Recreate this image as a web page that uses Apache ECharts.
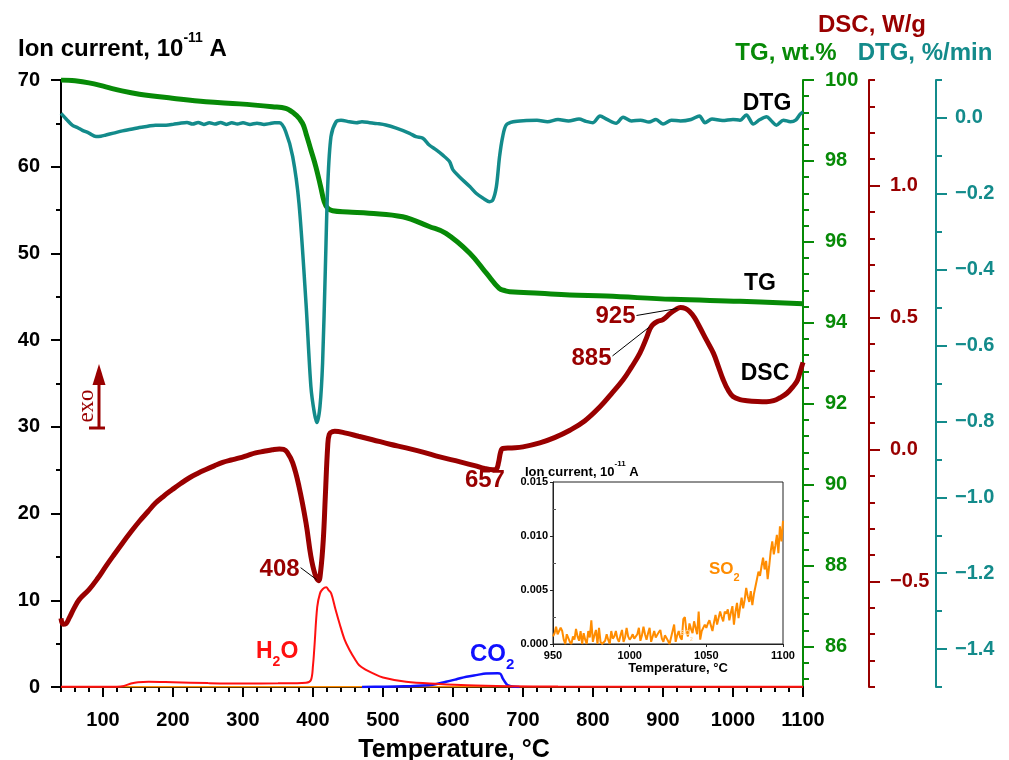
<!DOCTYPE html>
<html>
<head>
<meta charset="utf-8">
<title>TG / DTG / DSC / MS</title>
<script src="https://cdn.jsdelivr.net/npm/echarts@6.0.0/dist/echarts.min.js"></script>
<style>
  html, body { margin: 0; padding: 0; background: #ffffff; }
  #chart { width: 1009px; height: 760px; }
</style>
</head>
<body>
<div id="chart"></div>
<script>
// ---------- data ----------
// temperature tick labels (°C)
const tempTicks = [100, 200, 300, 400, 500, 600, 700, 800, 900, 1000, 1100];
const tgTicks = [86, 88, 90, 92, 94, 96, 98, 100];
const dscTicks = [-0.5, 0.0, 0.5, 1.0];
const dtgTicks = [-1.4, -1.2, -1.0, -0.8, -0.6, -0.4, -0.2, 0.0];

// TG, wt.%  [T, mass]
const tgData = [
  [40, 100.0], [60, 99.98], [80, 99.93], [104, 99.83], [127, 99.73], [152, 99.65],
  [199, 99.55], [247, 99.46], [295, 99.41], [342, 99.34], [361, 99.30], [376, 99.13],
  [385, 98.93], [390, 98.68], [397, 98.27], [404, 97.86], [411, 97.36], [416, 96.99],
  [421, 96.83], [428, 96.77], [450, 96.74], [480, 96.71], [528, 96.62], [566, 96.38],
  [590, 96.21], [624, 95.72], [648, 95.22], [666, 94.85], [675, 94.79], [681, 94.77],
  [724, 94.73], [767, 94.69], [819, 94.66], [914, 94.58], [1010, 94.53], [1100, 94.47]
];

// DTG, %/min  [T, rate]
const dtgData = [
  [40, 0.012], [48, -0.004], [56, -0.019], [64, -0.026], [70, -0.032], [80, -0.040],
  [90, -0.049], [97, -0.048], [104, -0.045], [115, -0.040], [128, -0.034], [140, -0.030],
  [152, -0.025], [164, -0.022], [175, -0.019], [190, -0.019], [200, -0.017], [210, -0.014],
  [220, -0.012], [228, -0.016], [236, -0.012], [244, -0.017], [252, -0.013], [260, -0.016],
  [268, -0.012], [276, -0.017], [284, -0.013], [292, -0.016], [300, -0.013], [310, -0.017],
  [320, -0.014], [330, -0.017], [338, -0.015], [345, -0.013], [352, -0.013], [361, -0.036],
  [371, -0.102], [380, -0.225], [390, -0.488], [397, -0.708], [402, -0.778], [405.7, -0.803],
  [410, -0.760], [413.7, -0.646], [417.6, -0.400], [421, -0.181], [425.7, -0.049],
  [433, -0.010], [440, -0.006], [452, -0.010], [462, -0.0125], [470, -0.010], [481, -0.0125],
  [492, -0.015], [504, -0.0186], [519, -0.027], [538, -0.0405], [547, -0.0494], [557, -0.0536],
  [566, -0.0712], [576, -0.0844], [585, -0.0975], [595, -0.115], [600, -0.137], [609, -0.155],
  [624, -0.181], [633, -0.1985], [643, -0.2116], [652, -0.2206], [657, -0.216], [662, -0.181],
  [666.5, -0.102], [671, -0.049], [676, -0.0186], [686, -0.0099], [705, -0.007], [720, -0.006],
  [735, -0.010], [750, -0.004], [765, -0.008], [780, -0.003], [790, -0.009], [800, -0.0125],
  [810, 0.005], [820, -0.004], [833, -0.014], [843, 0.002], [855, -0.008], [868, -0.006],
  [880, -0.011], [890, -0.004], [900, -0.016], [912, -0.006], [925, -0.008], [940, -0.004],
  [952, 0.005], [960, -0.0125], [970, -0.003], [985, -0.007], [1000, -0.004], [1010, -0.006],
  [1019, 0.008], [1029, -0.016], [1038, -0.005], [1048, 0.003], [1055, -0.008], [1062, -0.019],
  [1072, -0.006], [1082, -0.010], [1090, -0.005], [1096, 0.010], [1100, 0.016]
];

// DSC, W/g  [T, heat flow]
const dscData = [
  [40, -0.640], [43, -0.662], [47, -0.660], [52, -0.637], [58, -0.605], [66, -0.569],
  [80, -0.531], [92, -0.490], [104, -0.443], [116, -0.398], [128, -0.354], [140, -0.312],
  [152, -0.272], [164, -0.236], [175, -0.203], [187, -0.176], [199, -0.152], [211, -0.129],
  [223, -0.108], [235, -0.091], [247, -0.076], [259, -0.062], [271, -0.049], [283, -0.040],
  [295, -0.032], [307, -0.022], [318, -0.013], [330, -0.007], [342, -0.001], [352, 0.002],
  [358, 0.000], [363, -0.010], [371, -0.051], [380, -0.140], [390, -0.278], [397, -0.405],
  [403, -0.474], [408, -0.497], [411, -0.460], [414.7, -0.342], [417.6, -0.178], [421, 0.012],
  [423.3, 0.058], [428, 0.068], [431, 0.069], [447, 0.062], [465, 0.050], [485, 0.037],
  [510, 0.020], [533, 0.006], [557, -0.010], [581, -0.028], [609, -0.046], [631, -0.061],
  [645, -0.072], [657, -0.077], [662, -0.074], [665, -0.050], [668, -0.010], [671, 0.004],
  [684, 0.006], [700, 0.010], [724, 0.025], [745, 0.045], [767, 0.073], [788, 0.108],
  [810, 0.162], [826, 0.210], [843, 0.264], [855, 0.312], [867, 0.365], [876, 0.420],
  [881, 0.455], [885, 0.472], [892, 0.485], [900, 0.492], [910, 0.515], [918, 0.530],
  [925, 0.538], [932, 0.534], [938, 0.523], [945, 0.500], [952, 0.466], [962, 0.415],
  [972, 0.365], [979, 0.315], [986, 0.264], [993, 0.225], [1000, 0.201], [1010, 0.189],
  [1020, 0.185], [1035, 0.182], [1048, 0.181], [1058, 0.185], [1067, 0.196], [1077, 0.213],
  [1086, 0.239], [1092, 0.262], [1096, 0.295], [1100, 0.330]
];

// ion current, 10^-11 A
const h2oData = [
  [40, 0.02], [120, 0.03], [130, 0.12], [140, 0.40], [150, 0.56], [165, 0.61], [200, 0.55],
  [250, 0.45], [300, 0.40], [350, 0.42], [390, 0.50], [397, 0.80], [400, 2.50], [402, 4.60],
  [406, 9.20], [410, 10.8], [414, 11.3], [419, 11.5], [422, 11.2], [426, 10.8], [432, 9.0],
  [438, 7.3], [445, 5.5], [452, 4.3], [460, 3.2], [466, 2.5], [475, 2.0], [485, 1.6],
  [500, 1.1], [533, 0.6], [580, 0.35], [620, 0.20], [680, 0.10], [750, 0.05], [1100, 0.02]
];
const co2Data = [
  [470, 0.0], [500, 0.03], [530, 0.08], [550, 0.15], [571, 0.25], [590, 0.60],
  [605, 0.90], [619, 1.19], [635, 1.40], [647, 1.55], [664, 1.60], [668, 1.50], [671, 1.00],
  [675, 0.50], [678, 0.23], [685, 0.05], [695, 0.0]
];
const so2Data = [[40, 0.02], [1100, 0.02]];

// SO2 ion current, 950-1100 °C
const so2InsetData = [
  [950,0.0007],[951,0.0010],[952,0.0016],[953,0.0009],[954,0.0009],[955,0.0015],[956,0.0012],
  [957,0.0004],[958,0],[959,0.0009],[960,0.0009],[961,0.0002],[962,0],[963,0.0007],[964,0.0004],
  [965,0.0014],[966,0.0007],[967,0.0003],[968,0.0012],[969,0],[970,0.0010],[971,0.0004],[972,0],
  [973,0.0012],[974,0.0006],[975,0.0022],[976,0.0002],[977,0.0008],[978,0.0013],[979,0],
  [980,0.0015],[981,0.0002],[982,0],[983,0],[984,0.0003],[985,0.0009],[986,0.0004],[987,0],
  [988,0.0012],[989,0.0005],[990,0.0007],[991,0.0012],[992,0.0005],[993,0.0002],[994,0.0008],
  [995,0.0013],[996,0.0002],[997,0.0006],[998,0.0015],[999,0.0007],[1000,0.0004],[1001,0.0006],
  [1002,0.0009],[1003,0.0005],[1004,0.0004],[1005,0.0009],[1006,0.0015],[1007,0.0003],
  [1008,0.0008],[1009,0.0016],[1010,0.0009],[1011,0.0004],[1012,0.0010],[1013,0.0015],
  [1014,0.0002],[1015,0.0007],[1016,0.0012],[1017,0.0006],[1018,0.0006],[1019,0.0011],
  [1020,0.0013],[1021,0.0005],[1022,0.0002],[1023,0.0008],[1024,0.0007],[1025,0.0003],[1026,0],
  [1027,0.0006],[1028,0.0012],[1029,0.0018],[1030,0.0002],[1031,0.0008],[1032,0.0012],
  [1033,0.0006],[1034,0.0004],[1035,0.0023],[1036,0.0025],[1037,0.0012],[1038,0.0007],
  [1039,0.0019],[1040,0.0014],[1041,0.0010],[1042,0.0021],[1043,0.0015],[1044,0.0009],
  [1045,0.0030],[1046,0.0004],[1047,0.0012],[1048,0.0013],[1049,0.0018],[1050,0.0015],
  [1051,0.0019],[1052,0.0022],[1053,0.0017],[1054,0.0012],[1055,0.0020],[1056,0.0027],
  [1057,0.0018],[1058,0.0024],[1059,0.0030],[1060,0.0025],[1061,0.0021],[1062,0.0030],
  [1063,0.0028],[1064,0.0032],[1065,0.0022],[1066,0.0029],[1067,0.0035],[1068,0.0018],
  [1069,0.0030],[1070,0.0038],[1071,0.0024],[1072,0.0034],[1073,0.0043],[1074,0.0033],
  [1075,0.0041],[1076,0.0052],[1077,0.0044],[1078,0.0039],[1079,0.0049],[1080,0.0036],
  [1081,0.0046],[1082,0.0053],[1083,0.0060],[1084,0.0067],[1085,0.0063],[1086,0.0072],
  [1087,0.0080],[1088,0.0069],[1089,0.0077],[1090,0.0060],[1091,0.0072],[1092,0.0086],
  [1093,0.0095],[1094,0.0083],[1095,0.0091],[1096,0.0101],[1097,0.0084],[1098,0.0109],
  [1099,0.0095],[1100,0.0114]
];

// ---------- styling ----------
const FONT = '"Liberation Sans", Arial, Helvetica, sans-serif';
const C_TG = '#078a07';
const C_DSC = '#990000';
const C_DTG = '#138b8b';
const C_H2O = '#ff1010';
const C_CO2 = '#1010ff';
const C_SO2 = '#ff8c00';

const tgMinorTicks = [];
for (let k = 0; k <= 37; k++) tgMinorTicks.push(+(85.2 + 0.4 * k).toFixed(1));

const minus = v => (v < 0 ? '\u2212' : '') + Math.abs(v).toFixed(1);
const plain = v => String(v);

function labelStyle(color, size) {
  return { color: color, fontSize: size, fontWeight: 'bold', fontFamily: FONT };
}

function majorY(o) {
  return Object.assign({
    type: 'value', gridIndex: 0, splitLine: { show: false },
    axisLine: { show: true, onZero: false, lineStyle: { color: o.color, width: 2 } },
    axisTick: { show: true, inside: false, length: 11, customValues: o.ticks, lineStyle: { color: o.color, width: 2 } },
    axisLabel: Object.assign(labelStyle(o.color, 20), { customValues: o.ticks, margin: o.margin, formatter: o.formatter })
  }, o.base);
}
function minorY(o) {
  return Object.assign({
    type: 'value', gridIndex: 0, splitLine: { show: false },
    axisLine: { show: false },
    axisTick: { show: true, inside: false, length: 6, lineStyle: { color: o.color, width: 2 } },
    axisLabel: { show: false }
  }, o.base);
}

const chart = echarts.init(document.getElementById('chart'), null, { renderer: 'canvas' });

const option = {
  animation: false,
  backgroundColor: '#ffffff',
  grid: [
    { left: 61, right: 206, top: 80, bottom: 73 },
    { left: 553, top: 482, width: 230, height: 162, show: true, backgroundColor: '#ffffff',
      borderColor: '#222', borderWidth: 1, z: 5 }
  ],
  xAxis: [
    { type: 'value', gridIndex: 0, min: 40, max: 1100, position: 'bottom', splitLine: { show: false },
      axisLine: { show: true, onZero: false, lineStyle: { color: '#000', width: 2 } },
      axisTick: { show: true, length: 10, customValues: tempTicks, lineStyle: { color: '#000', width: 2 } },
      axisLabel: Object.assign(labelStyle('#000', 20), { customValues: tempTicks, margin: 23, formatter: plain }) },
    { type: 'value', gridIndex: 0, min: 40, max: 1100, interval: 20, position: 'bottom', splitLine: { show: false },
      axisLine: { show: false },
      axisTick: { show: true, length: 5, lineStyle: { color: '#000', width: 2 } },
      axisLabel: { show: false } },
    { type: 'value', gridIndex: 1, min: 950, max: 1100, interval: 50, splitLine: { show: false }, z: 6,
      axisLine: { show: true, onZero: false, lineStyle: { color: '#222', width: 1 } },
      axisTick: { show: true, length: 3, lineStyle: { color: '#222', width: 1 } },
      axisLabel: Object.assign(labelStyle('#000', 11), { margin: 6, formatter: plain }) }
  ],
  yAxis: [
    // 0-1: ion current (left)
    { type: 'value', gridIndex: 0, position: 'left', min: 0, max: 70, interval: 10, splitLine: { show: false },
      axisLine: { show: true, onZero: false, lineStyle: { color: '#000', width: 2 } },
      axisTick: { show: true, length: 10, lineStyle: { color: '#000', width: 2 } },
      axisLabel: Object.assign(labelStyle('#000', 20), { margin: 21 }) },
    { type: 'value', gridIndex: 0, position: 'left', min: 0, max: 70, interval: 5, splitLine: { show: false },
      axisLine: { show: false },
      axisTick: { show: true, length: 5, lineStyle: { color: '#000', width: 2 } },
      axisLabel: { show: false } },
    // 2-3: TG
    majorY({ color: C_TG, ticks: tgTicks, margin: 22, formatter: plain,
      base: { position: 'right', offset: 0, min: 85, max: 100 } }),
    { type: 'value', gridIndex: 0, position: 'right', offset: 0, min: 85, max: 100, splitLine: { show: false },
      axisLine: { show: false },
      axisTick: { show: true, length: 6, customValues: tgMinorTicks, lineStyle: { color: C_TG, width: 2 } },
      axisLabel: { show: false } },
    // 4-5: DSC
    majorY({ color: C_DSC, ticks: dscTicks, margin: 21, formatter: minus,
      base: { position: 'right', offset: 66, min: -0.9, max: 1.4 } }),
    minorY({ color: C_DSC, base: { position: 'right', offset: 66, min: -0.9, max: 1.4, interval: 0.1 } }),
    // 6-7: DTG
    majorY({ color: C_DTG, ticks: dtgTicks, margin: 19, formatter: minus,
      base: { position: 'right', offset: 133, min: -1.5, max: 0.1 } }),
    minorY({ color: C_DTG, base: { position: 'right', offset: 133, min: -1.5, max: 0.1, interval: 0.1 } }),
    // 8-9: inset ion current
    { type: 'value', gridIndex: 1, position: 'left', min: 0, max: 0.015, interval: 0.005, splitLine: { show: false }, z: 6,
      axisLine: { show: true, onZero: false, lineStyle: { color: '#222', width: 1 } },
      axisTick: { show: true, length: 3, lineStyle: { color: '#222', width: 1 } },
      axisLabel: Object.assign(labelStyle('#000', 11), { margin: 5, formatter: v => v.toFixed(3) }) },
    { type: 'value', gridIndex: 1, position: 'left', min: 0, max: 0.015, splitLine: { show: false }, z: 6,
      axisLine: { show: false },
      axisTick: { show: true, inside: true, length: 3, customValues: [0.0025, 0.0075, 0.0125],
        lineStyle: { color: '#555', width: 1 } },
      axisLabel: { show: false } }
  ],
  series: [
    { name: 'SO2 (main)', type: 'line', xAxisIndex: 0, yAxisIndex: 0, data: so2Data, showSymbol: false,
      lineStyle: { color: C_SO2, width: 1.5 }, z: 2 },
    { name: 'CO2', type: 'line', xAxisIndex: 0, yAxisIndex: 0, data: co2Data, showSymbol: false,
      smooth: 0.35, lineStyle: { color: C_CO2, width: 2.5 }, z: 3 },
    { name: 'H2O', type: 'line', xAxisIndex: 0, yAxisIndex: 0, data: h2oData, showSymbol: false,
      smooth: 0.35, lineStyle: { color: C_H2O, width: 2 }, z: 4 },
    { name: 'TG', type: 'line', xAxisIndex: 0, yAxisIndex: 2, data: tgData, showSymbol: false,
      smooth: 0.4, lineStyle: { color: C_TG, width: 5 }, z: 3 },
    { name: 'DTG', type: 'line', xAxisIndex: 0, yAxisIndex: 6, data: dtgData, showSymbol: false,
      smooth: 0.3, lineStyle: { color: C_DTG, width: 3.5 }, z: 3 },
    { name: 'DSC', type: 'line', xAxisIndex: 0, yAxisIndex: 4, data: dscData, showSymbol: false,
      smooth: 0.4, lineStyle: { color: C_DSC, width: 5 }, z: 4 },
    { name: 'SO2', type: 'line', xAxisIndex: 2, yAxisIndex: 8, data: so2InsetData, showSymbol: false,
      lineStyle: { color: C_SO2, width: 2 }, z: 7 }
  ]
};
chart.setOption(option);

// ---------- titles, curve names and annotations ----------
function txt(x, y, text, color, size, align, extra) {
  return {
    type: 'text', x: x, y: y, z: 20,
    style: Object.assign({ text: text, fill: color, fontSize: size, fontWeight: 'bold', fontFamily: FONT,
      align: align || 'center', verticalAlign: 'middle', textAlign: align || 'center', textVerticalAlign: 'middle' },
      extra || {})
  };
}
function richTxt(x, y, text, color, size, rich, align) {
  return {
    type: 'text', x: x, y: y, z: 20,
    style: { text: text, fill: color, fontFamily: FONT, fontWeight: 'bold', fontSize: size,
      align: align || 'left', verticalAlign: 'middle', textAlign: align || 'left', textVerticalAlign: 'middle',
      rich: rich }
  };
}
function supRich(size, supSize, color) {
  return {
    m: { fontSize: size, fontWeight: 'bold', fontFamily: FONT, fill: color, color: color, lineHeight: size + 6, verticalAlign: 'bottom' },
    s: { fontSize: supSize, fontWeight: 'bold', fontFamily: FONT, fill: color, color: color, lineHeight: size - 2, verticalAlign: 'top' }
  };
}
function subRich(size, subSize, color) {
  return {
    m: { fontSize: size, fontWeight: 'bold', fontFamily: FONT, fill: color, color: color, lineHeight: size + 6, verticalAlign: 'top' },
    s: { fontSize: subSize, fontWeight: 'bold', fontFamily: FONT, fill: color, color: color, lineHeight: subSize, verticalAlign: 'bottom' }
  };
}
function leader(x1, y1, x2, y2) {
  return { type: 'line', z: 20, shape: { x1: x1, y1: y1, x2: x2, y2: y2 },
    style: { stroke: '#000', lineWidth: 1 } };
}

const dscSeriesIndex = 5;
function dscPoint(t) {
  const p = dscData.find(d => d[0] === t);
  return chart.convertToPixel({ seriesIndex: dscSeriesIndex }, p);
}

const graphics = [
  // axis titles
  richTxt(18, 46, '{m|Ion current, 10}{s|-11}{m| A}', '#000', 24, supRich(24, 14, '#000')),
  txt(872, 25, 'DSC, W/g', C_DSC, 24),
  txt(786, 53, 'TG, wt.%', C_TG, 24),
  txt(925, 53, 'DTG, %/min', C_DTG, 24),
  txt(454, 750, 'Temperature, \u00B0C', '#000', 25),
  // curve names
  txt(767, 104, 'DTG', '#000', 23),
  txt(760, 284, 'TG', '#000', 23),
  txt(765, 374, 'DSC', '#000', 23),
  richTxt(256, 655, '{m|H}{s|2}{m|O}', C_H2O, 23, subRich(23, 14, C_H2O)),
  richTxt(470, 657, '{m|CO}{s|2}', C_CO2, 24, subRich(24, 15, C_CO2)),
  // inset titles
  richTxt(525, 469, '{m|Ion current, 10}{s|-11}{m| A}', '#000', 13, supRich(13, 8, '#000')),
  txt(678, 668, 'Temperature, \u00B0C', '#000', 13),
  richTxt(709, 572, '{m|SO}{s|2}', C_SO2, 17, subRich(17, 11, C_SO2)),
  richTxt(680, 636, '{m|SO}{s|2}', '#ffd6a0', 7, subRich(7, 5, '#ffd6a0')),
  // exo arrow
  { type: 'line', z: 20, shape: { x1: 99, y1: 428, x2: 99, y2: 378 }, style: { stroke: C_DSC, lineWidth: 3 } },
  { type: 'line', z: 20, shape: { x1: 89, y1: 428, x2: 105, y2: 428 }, style: { stroke: C_DSC, lineWidth: 3 } },
  { type: 'polygon', z: 20, shape: { points: [[99, 364], [92.5, 385], [105.5, 385]] }, style: { fill: C_DSC } },
  { type: 'text', x: 87, y: 406, rotation: Math.PI / 2, z: 20,
    style: { text: 'exo', fill: C_DSC, fontSize: 23, fontFamily: '"Liberation Serif", "DejaVu Serif", serif',
      align: 'center', verticalAlign: 'middle', textAlign: 'center', textVerticalAlign: 'middle' } }
];

// DSC peak temperature labels with leader lines
const p408 = dscPoint(408), p657 = dscPoint(657), p885 = dscPoint(885), p925 = dscPoint(925);
graphics.push(
  txt(p408[0] - 19, p408[1] - 11, '408', C_DSC, 24, 'right'),
  leader(p408[0] - 18, p408[1] - 13, p408[0] - 2, p408[1] - 1),
  txt(p657[0] - 8, p657[1] + 11, '657', C_DSC, 24, 'center'),
  txt(p885[0] - 41, p885[1] + 33, '885', C_DSC, 24, 'right'),
  leader(p885[0] - 40, p885[1] + 31, p885[0] - 3, p885[1] + 2),
  txt(p925[0] - 45, p925[1] + 9, '925', C_DSC, 24, 'right'),
  leader(p925[0] - 44, p925[1] + 8, p925[0] - 3, p925[1] + 1)
);

chart.setOption({ graphic: { elements: graphics } });
</script>
</body>
</html>
